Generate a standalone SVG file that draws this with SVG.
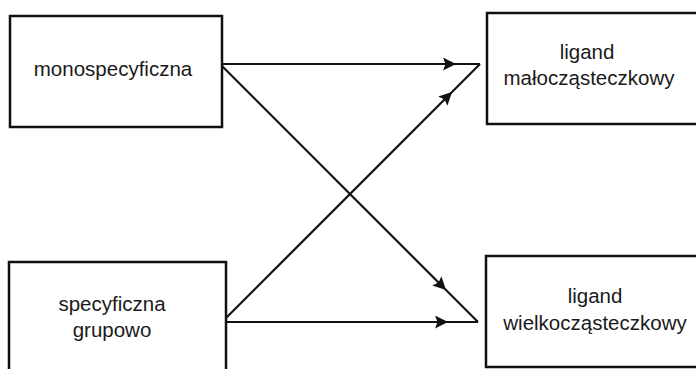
<svg xmlns="http://www.w3.org/2000/svg" width="696" height="369" viewBox="0 0 696 369">
<defs>
<style>
.box{fill:#fff;stroke:#111;stroke-width:2.5}
.lbl{font-family:"Liberation Sans",Arial,sans-serif;font-size:20.5px;fill:#1a1a1a;text-anchor:middle}
.con{fill:none;stroke:#111;stroke-width:2.2;stroke-linejoin:miter}
</style>
<marker id="ah" markerUnits="userSpaceOnUse" markerWidth="15" markerHeight="13" refX="13" refY="6.5" orient="auto" viewBox="0 0 15 13">
<path d="M0,0 L13,6.5 L0,13 L2.5,6.5 z" fill="#111"/>
</marker>
</defs>
<rect width="696" height="369" fill="#fff"/>
<g id="connectors">
<path class="con" d="M222,64 L456,64 L480,64" marker-mid="url(#ah)"/>
<path class="con" d="M226,318 L452,92 L480,64" marker-mid="url(#ah)"/>
<path class="con" d="M222,66 L446,290 L478,322" marker-mid="url(#ah)"/>
<path class="con" d="M226,322 L448,322 L478,322" marker-mid="url(#ah)"/>
</g>
<g id="monospecyficzna">
<rect class="box" x="10" y="16" width="212" height="111"/>
<text class="lbl" x="113" y="76">monospecyficzna</text>
</g>
<g id="specyficzna-grupowo">
<rect class="box" x="9" y="262" width="217" height="120"/>
<text class="lbl" x="112" y="311">specyficzna</text>
<text class="lbl" x="112" y="337">grupowo</text>
</g>
<g id="ligand-maloczasteczkowy">
<rect class="box" x="487" y="13" width="220" height="111"/>
<text class="lbl" x="587" y="59">ligand</text>
<text class="lbl" x="589" y="85">małocząsteczkowy</text>
</g>
<g id="ligand-wielkoczasteczkowy">
<rect class="box" x="486" y="256" width="220" height="111"/>
<text class="lbl" x="595" y="303">ligand</text>
<text class="lbl" x="595" y="330">wielkocząsteczkowy</text>
</g>
</svg>
